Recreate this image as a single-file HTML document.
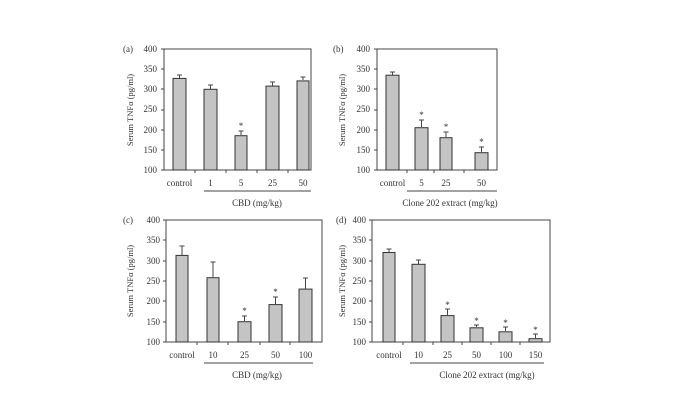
<!DOCTYPE html>
<html><head><meta charset="utf-8"><style>
html,body{margin:0;padding:0;background:#fff;}
svg{display:block;font-family:"Liberation Serif",serif;}
text{font-size:9px;fill:#333;}
.ax{stroke:#444;stroke-width:1;fill:none}
.bar{fill:#c4c4c4;stroke:#333;stroke-width:1}
.e{stroke:#444;stroke-width:1}
.yl text{text-anchor:end}
</style></head><body>
<svg width="676" height="419" viewBox="0 0 676 419">
<!-- Panel a -->
<text x="123" y="52">(a)</text>
<rect class="ax" x="164" y="49" width="147" height="121"/>
<g class="yl">
<text x="157" y="52">400</text><text x="157" y="72">350</text><text x="157" y="92">300</text><text x="157" y="112">250</text><text x="157" y="133">200</text><text x="157" y="153">150</text><text x="157" y="173">100</text>
</g>
<g class="e">
<line x1="161" y1="49" x2="164" y2="49"/><line x1="161" y1="69" x2="164" y2="69"/><line x1="161" y1="89" x2="164" y2="89"/><line x1="161" y1="110" x2="164" y2="110"/><line x1="161" y1="130" x2="164" y2="130"/><line x1="161" y1="150" x2="164" y2="150"/><line x1="161" y1="170" x2="164" y2="170"/>
<line x1="195" y1="170" x2="195" y2="173"/><line x1="226" y1="170" x2="226" y2="173"/><line x1="257" y1="170" x2="257" y2="173"/><line x1="288" y1="170" x2="288" y2="173"/>
</g>
<rect class="bar" x="173" y="78.4" width="13" height="91.6"/>
<rect class="bar" x="204" y="89.3" width="13" height="80.7"/>
<rect class="bar" x="235" y="135.7" width="12" height="34.3"/>
<rect class="bar" x="266" y="86.1" width="13" height="83.9"/>
<rect class="bar" x="297" y="80.9" width="12" height="89.1"/>
<g class="e">
<line x1="179.5" y1="78" x2="179.5" y2="75"/><line x1="177" y1="75" x2="182" y2="75"/>
<line x1="210.5" y1="89" x2="210.5" y2="85"/><line x1="208" y1="85" x2="213" y2="85"/>
<line x1="241" y1="135" x2="241" y2="131"/><line x1="238.5" y1="131" x2="243.5" y2="131"/>
<line x1="272.5" y1="86" x2="272.5" y2="82"/><line x1="270" y1="82" x2="275" y2="82"/>
<line x1="303" y1="80" x2="303" y2="77"/><line x1="300.5" y1="77" x2="305.5" y2="77"/>
</g>
<text x="241" y="129" text-anchor="middle">*</text>
<text x="179.5" y="186" text-anchor="middle">control</text>
<text x="210.5" y="186" text-anchor="middle">1</text>
<text x="241" y="186" text-anchor="middle">5</text>
<text x="272.5" y="186" text-anchor="middle">25</text>
<text x="303" y="186" text-anchor="middle">50</text>
<line class="e" x1="204" y1="191" x2="311" y2="191"/>
<text x="257" y="206" text-anchor="middle">CBD (mg/kg)</text>
<text x="133" y="110" text-anchor="middle" transform="rotate(-90 133 110)" style="font-size:8.5px">Serum TNFα (pg/ml)</text>

<!-- Panel b -->
<text x="333" y="52">(b)</text>
<rect class="ax" x="377" y="49" width="120" height="121"/>
<g class="yl">
<text x="370" y="52">400</text><text x="370" y="72">350</text><text x="370" y="92">300</text><text x="370" y="112">250</text><text x="370" y="133">200</text><text x="370" y="153">150</text><text x="370" y="173">100</text>
</g>
<g class="e">
<line x1="374" y1="49" x2="377" y2="49"/><line x1="374" y1="69" x2="377" y2="69"/><line x1="374" y1="89" x2="377" y2="89"/><line x1="374" y1="110" x2="377" y2="110"/><line x1="374" y1="130" x2="377" y2="130"/><line x1="374" y1="150" x2="377" y2="150"/><line x1="374" y1="170" x2="377" y2="170"/>
<line x1="407" y1="170" x2="407" y2="173"/><line x1="434" y1="170" x2="434" y2="173"/><line x1="464" y1="170" x2="464" y2="173"/>
</g>
<rect class="bar" x="386" y="75.2" width="13" height="94.8"/>
<rect class="bar" x="415" y="127.7" width="13" height="42.3"/>
<rect class="bar" x="440" y="137.7" width="12" height="32.3"/>
<rect class="bar" x="475" y="152.7" width="13" height="17.3"/>
<g class="e">
<line x1="392.5" y1="75" x2="392.5" y2="72"/><line x1="390" y1="72" x2="395" y2="72"/>
<line x1="421.5" y1="127" x2="421.5" y2="120"/><line x1="419" y1="120" x2="424" y2="120"/>
<line x1="446" y1="137" x2="446" y2="132"/><line x1="443.5" y1="132" x2="448.5" y2="132"/>
<line x1="481.5" y1="152" x2="481.5" y2="147"/><line x1="479" y1="147" x2="484" y2="147"/>
</g>
<text x="421.5" y="118" text-anchor="middle">*</text>
<text x="446" y="130" text-anchor="middle">*</text>
<text x="481.5" y="145" text-anchor="middle">*</text>
<text x="392.5" y="186" text-anchor="middle">control</text>
<text x="421.5" y="186" text-anchor="middle">5</text>
<text x="446" y="186" text-anchor="middle">25</text>
<text x="481.5" y="186" text-anchor="middle">50</text>
<line class="e" x1="407" y1="191" x2="497" y2="191"/>
<text x="450" y="206" text-anchor="middle">Clone 202 extract (mg/kg)</text>
<text x="345" y="110" text-anchor="middle" transform="rotate(-90 345 110)" style="font-size:8.5px">Serum TNFα (pg/ml)</text>

<!-- Panel c -->
<text x="123" y="223">(c)</text>
<rect class="ax" x="166" y="220" width="156" height="122"/>
<g class="yl">
<text x="160" y="223">400</text><text x="160" y="243">350</text><text x="160" y="264">300</text><text x="160" y="284">250</text><text x="160" y="304">200</text><text x="160" y="325">150</text><text x="160" y="345">100</text>
</g>
<g class="e">
<line x1="163" y1="220" x2="166" y2="220"/><line x1="163" y1="240" x2="166" y2="240"/><line x1="163" y1="261" x2="166" y2="261"/><line x1="163" y1="281" x2="166" y2="281"/><line x1="163" y1="301" x2="166" y2="301"/><line x1="163" y1="322" x2="166" y2="322"/><line x1="163" y1="342" x2="166" y2="342"/>
<line x1="197" y1="342" x2="197" y2="345"/><line x1="228" y1="342" x2="228" y2="345"/><line x1="260" y1="342" x2="260" y2="345"/><line x1="290" y1="342" x2="290" y2="345"/>
</g>
<rect class="bar" x="176" y="255.4" width="12" height="86.6"/>
<rect class="bar" x="207" y="277.7" width="12" height="64.3"/>
<rect class="bar" x="238" y="321.7" width="13" height="20.3"/>
<rect class="bar" x="269" y="304.6" width="13" height="37.4"/>
<rect class="bar" x="299" y="289.1" width="13" height="52.9"/>
<g class="e">
<line x1="182" y1="255" x2="182" y2="246"/><line x1="179.5" y1="246" x2="184.5" y2="246"/>
<line x1="213" y1="277" x2="213" y2="262"/><line x1="210.5" y1="262" x2="215.5" y2="262"/>
<line x1="244.5" y1="321" x2="244.5" y2="316"/><line x1="242" y1="316" x2="247" y2="316"/>
<line x1="275.5" y1="304" x2="275.5" y2="297"/><line x1="273" y1="297" x2="278" y2="297"/>
<line x1="305.5" y1="289" x2="305.5" y2="278"/><line x1="303" y1="278" x2="308" y2="278"/>
</g>
<text x="244.5" y="314" text-anchor="middle">*</text>
<text x="275.5" y="295" text-anchor="middle">*</text>
<text x="182" y="358" text-anchor="middle">control</text>
<text x="213" y="358" text-anchor="middle">10</text>
<text x="244.5" y="358" text-anchor="middle">25</text>
<text x="275.5" y="358" text-anchor="middle">50</text>
<text x="305.5" y="358" text-anchor="middle">100</text>
<line class="e" x1="204" y1="363" x2="313" y2="363"/>
<text x="257" y="378" text-anchor="middle">CBD (mg/kg)</text>
<text x="133" y="281" text-anchor="middle" transform="rotate(-90 133 281)" style="font-size:8.5px">Serum TNFα (pg/ml)</text>

<!-- Panel d -->
<text x="336" y="223">(d)</text>
<rect class="ax" x="372" y="220" width="178" height="122"/>
<g class="yl">
<text x="366" y="223">400</text><text x="366" y="243">350</text><text x="366" y="264">300</text><text x="366" y="284">250</text><text x="366" y="304">200</text><text x="366" y="325">150</text><text x="366" y="345">100</text>
</g>
<g class="e">
<line x1="369" y1="220" x2="372" y2="220"/><line x1="369" y1="240" x2="372" y2="240"/><line x1="369" y1="261" x2="372" y2="261"/><line x1="369" y1="281" x2="372" y2="281"/><line x1="369" y1="301" x2="372" y2="301"/><line x1="369" y1="322" x2="372" y2="322"/><line x1="369" y1="342" x2="372" y2="342"/>
<line x1="403" y1="342" x2="403" y2="345"/><line x1="433" y1="342" x2="433" y2="345"/><line x1="462" y1="342" x2="462" y2="345"/><line x1="491" y1="342" x2="491" y2="345"/><line x1="520" y1="342" x2="520" y2="345"/>
</g>
<rect class="bar" x="383" y="252.5" width="12" height="89.5"/>
<rect class="bar" x="412" y="264.3" width="13" height="77.7"/>
<rect class="bar" x="441" y="315.6" width="13" height="26.4"/>
<rect class="bar" x="470" y="327.8" width="13" height="14.2"/>
<rect class="bar" x="499" y="331.8" width="13" height="10.2"/>
<rect class="bar" x="529" y="338.7" width="13" height="3.3"/>
<g class="e">
<line x1="389" y1="252" x2="389" y2="249"/><line x1="386.5" y1="249" x2="391.5" y2="249"/>
<line x1="418.5" y1="264" x2="418.5" y2="260"/><line x1="416" y1="260" x2="421" y2="260"/>
<line x1="447.5" y1="315" x2="447.5" y2="309"/><line x1="445" y1="309" x2="450" y2="309"/>
<line x1="476.5" y1="327" x2="476.5" y2="325"/><line x1="474" y1="325" x2="479" y2="325"/>
<line x1="505.5" y1="331" x2="505.5" y2="327"/><line x1="503" y1="327" x2="508" y2="327"/>
<line x1="535.5" y1="338" x2="535.5" y2="334"/><line x1="533" y1="334" x2="538" y2="334"/>
</g>
<text x="447.5" y="308" text-anchor="middle">*</text>
<text x="476.5" y="324" text-anchor="middle">*</text>
<text x="505.5" y="326" text-anchor="middle">*</text>
<text x="535.5" y="333" text-anchor="middle">*</text>
<text x="389" y="358" text-anchor="middle">control</text>
<text x="418.5" y="358" text-anchor="middle">10</text>
<text x="447.5" y="358" text-anchor="middle">25</text>
<text x="476.5" y="358" text-anchor="middle">50</text>
<text x="505.5" y="358" text-anchor="middle">100</text>
<text x="535.5" y="358" text-anchor="middle">150</text>
<line class="e" x1="410" y1="363" x2="544" y2="363"/>
<text x="487" y="378" text-anchor="middle">Clone 202 extract (mg/kg)</text>
<text x="345" y="281" text-anchor="middle" transform="rotate(-90 345 281)" style="font-size:8.5px">Serum TNFα (pg/ml)</text>
</svg>
</body></html>
